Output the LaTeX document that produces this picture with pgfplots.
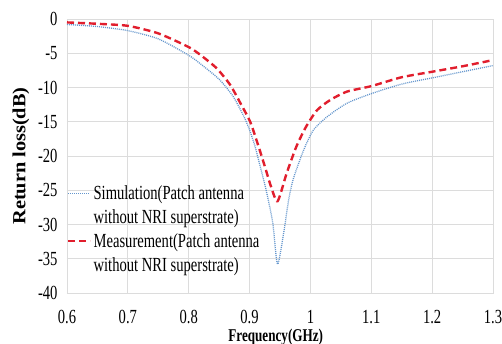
\documentclass[border=0pt]{standalone}
\usepackage{pgfplots}
\pgfplotsset{compat=1.18}
\usepackage{fontspec}
\setmainfont[FakeStretch=0.73]{Liberation Serif}
\newfontfamily\ylabfont[FakeStretch=1.1]{Liberation Serif}
\definecolor{simblue}{RGB}{100,150,205}
\definecolor{measred}{RGB}{225,30,45}
\definecolor{gridgray}{RGB}{220,220,220}

\pgfplotstableread{
f db
0.60 -0.8
0.65 -1.1
0.70 -1.7
0.75 -2.9
0.80 -5.3
0.82 -6.6
0.85 -8.8
0.873 -11.3
0.891 -14.3
0.90 -16.2
0.909 -18.6
0.916 -21.0
0.927 -24.9
0.938 -29.7
0.946 -35.8
0.957 -30.7
0.964 -26.5
0.972 -23.3
0.989 -19.1
1.005 -16.2
1.027 -14.3
1.06 -12.3
1.10 -10.9
1.15 -9.5
1.20 -8.6
1.25 -7.7
1.30 -6.8
}\simdata

\pgfplotstableread{
f db
0.60 -0.5
0.65 -0.7
0.70 -1.0
0.75 -2.1
0.80 -4.1
0.82 -5.3
0.846 -7.2
0.868 -9.6
0.885 -12.3
0.901 -15.0
0.914 -18.4
0.925 -21.5
0.935 -24.4
0.946 -26.6
0.961 -22.5
0.977 -18.6
0.993 -15.7
1.011 -13.3
1.033 -11.8
1.06 -10.6
1.10 -9.8
1.15 -8.5
1.20 -7.7
1.25 -6.9
1.30 -6.0
}\measdata

\begin{document}
\begin{tikzpicture}
\begin{axis}[
  scale only axis, width=426pt, height=274pt,
  xmin=0.6, xmax=1.3, ymin=-40, ymax=0,
  xtick={0.6,0.7,0.8,0.9,1,1.1,1.2,1.3},
  ytick={-40,-35,-30,-25,-20,-15,-10,-5,0},
  grid=major, major grid style={gridgray, line width=0.8pt},
  axis line style={gridgray, line width=0.8pt},
  major tick length=0pt,
  /pgf/number format/assume math mode=true,
  ticklabel style={font=\fontsize{20}{22}\selectfont},
  xticklabel style={yshift=-14pt},
  yticklabel style={xshift=-6pt},
  xlabel={Frequency(GHz)},
  ylabel={Return loss(dB)},
  xlabel style={font=\bfseries\fontsize{18}{20}\selectfont, at={(axis description cs:0.49,-0.118)}, anchor=north},
  ylabel style={font=\ylabfont\bfseries\fontsize{18.5}{20}\selectfont, at={(axis description cs:-0.08,0.5)}, anchor=south},
  legend style={at={(axis description cs:0.0,0.40)}, anchor=north west, draw=none, fill=none,
    font=\fontsize{20}{22}\selectfont, row sep=4.5pt, inner sep=0pt, cells={anchor=west}},
  legend image code/.code={\draw[#1] (0pt,0pt) -- (22pt,0pt);},
]
\coordinate (ll) at (rel axis cs:0,0);
\addplot[simblue, line width=1.3pt, dash pattern=on 1pt off 1pt, smooth, tension=0.4] table[x=f,y=db] {\simdata};
\addlegendentry{Simulation(Patch antenna}
\addlegendimage{empty legend}
\addlegendentry{without NRI superstrate)}
\addplot[measred, line width=2.4pt, dash pattern=on 7pt off 4pt, smooth, tension=0.4] table[x=f,y=db] {\measdata};
\addlegendentry{Measurement(Patch antenna}
\addlegendimage{empty legend}
\addlegendentry{without NRI superstrate)}
\end{axis}
\pgfresetboundingbox
\path (ll) ++(-67pt,-51pt) rectangle ++(502pt,344pt);
\end{tikzpicture}
\end{document}
